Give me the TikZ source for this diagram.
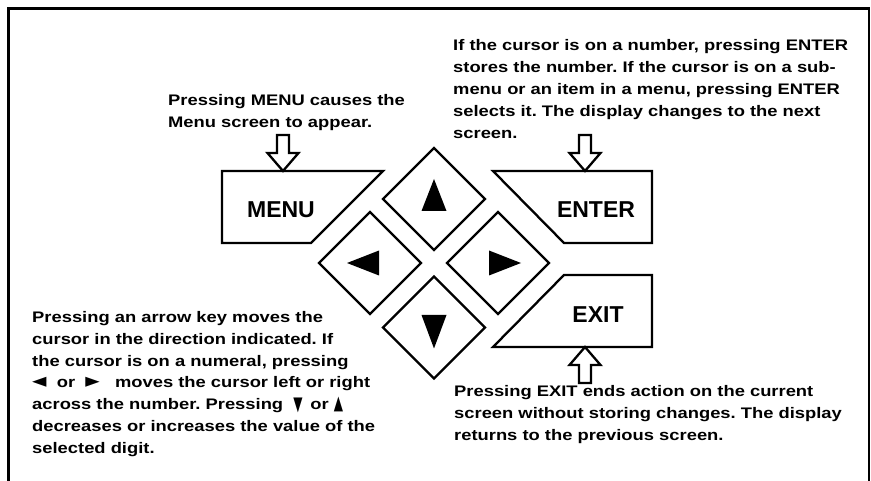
\documentclass[tikz,border=0pt]{standalone}
\usepackage{fontspec}
\setmainfont{Liberation Sans}
\newfontfamily\notefont[FakeStretch=1.2]{Liberation Sans}
\newfontfamily\symfont{DejaVu Sans}
\usetikzlibrary{shapes.geometric}
\frenchspacing
\newcommand{\symL}{{\symfont\fontsize{15}{15}\selectfont\scalebox{1.25}[1.35]{◄}}}
\newcommand{\symR}{{\symfont\fontsize{15}{15}\selectfont\scalebox{1.25}[1.35]{►}}}
\newcommand{\symD}{{\symfont\fontsize{15}{15}\selectfont\raisebox{-0.5pt}{\scalebox{0.8}[1.3]{▼}}}}
\newcommand{\symU}{{\symfont\fontsize{15}{15}\selectfont\scalebox{0.8}[1.3]{▲}}}
\tikzset{
  keyline/.style={line width=2.3pt, line join=miter},
  keydiamond/.style={diamond, draw, keyline, minimum width=103pt, minimum height=103pt, inner sep=0pt},
  keylabel/.style={font=\bfseries\fontsize{23}{26}\selectfont, inner sep=0pt, anchor=base},
  note/.style={font=\notefont\bfseries\fontsize{15.3}{22}\selectfont\frenchspacing, align=left, inner sep=0pt, anchor=base west},
  downarrow/.pic={\draw[keyline] (-6,-36) -- (-6,-18) -- (-15.5,-18) -- (0,0) -- (15.5,-18) -- (6,-18) -- (6,-36) -- cycle;},
  uparrow/.pic={\draw[keyline] (-6,36) -- (-6,18) -- (-15.5,18) -- (0,0) -- (15.5,18) -- (6,18) -- (6,36) -- cycle;}
}
\begin{document}
\begin{tikzpicture}[x=1pt, y=-1pt]
\useasboundingbox (0,0) rectangle (871,481);
% frame
\draw[line width=2.3pt] (8.5,481) -- (8.5,8.5) -- (869,8.5) -- (869,481);

% arrow keys
\node[keydiamond] (up) at (434,199) {};
\node[keydiamond] (left) at (370,263) {};
\node[keydiamond] (right) at (498,263) {};
\node[keydiamond] (down) at (434,327.5) {};
\fill ([yshift=20pt]up.center) -- ([xshift=-12.5pt,yshift=-12pt]up.center) -- ([xshift=12.5pt,yshift=-12pt]up.center) -- cycle;
\fill ([yshift=-21pt]down.center) -- ([xshift=-12.5pt,yshift=12.5pt]down.center) -- ([xshift=12.5pt,yshift=12.5pt]down.center) -- cycle;
\fill ([xshift=-23pt]left.center) -- ([xshift=9pt,yshift=12.5pt]left.center) -- ([xshift=9pt,yshift=-12.5pt]left.center) -- cycle;
\fill ([xshift=23pt]right.center) -- ([xshift=-9pt,yshift=12.5pt]right.center) -- ([xshift=-9pt,yshift=-12.5pt]right.center) -- cycle;

% MENU / ENTER / EXIT keys
\draw[keyline] (222,171) -- (383,171) -- (311,243) -- (222,243) -- cycle;
\draw[keyline] (493,171) -- (652,171) -- (652,243) -- (564,243) -- cycle;
\draw[keyline] (564,275) -- (652,275) -- (652,347) -- (493,347) -- cycle;
\node[keylabel] (menu) at (281,218) {MENU};
\node[keylabel] (enter) at (596,218) {ENTER};
\node[keylabel] (exit) at (598,323) {EXIT};

% pointer arrows
\coordinate (menutip) at (283,171);
\coordinate (entertip) at (585,171);
\coordinate (exittip) at (585,347);
\pic at (menutip) {downarrow};
\pic at (entertip) {downarrow};
\pic at (exittip) {uparrow};

% notes (anchor = baseline of the last line)
\node[note] (menunote) at (168,128) {Pressing MENU causes the\\Menu screen to appear.};
\node[note] (enternote) at (453,139) {If the cursor is on a number, pressing ENTER\\stores the number. If the cursor is on a sub-\\menu or an item in a menu, pressing ENTER\\selects it. The display changes to the next\\screen.};
\node[note, font=\notefont\bfseries\fontsize{15.3}{21.7}\selectfont\frenchspacing] (arrownote) at (32,453) {Pressing an arrow key moves the\\cursor in the direction indicated. If\\the cursor is on a numeral, pressing\\\symL\ \ or \ \symR\ \ \ moves the cursor left or right\\across the number. Pressing \ \symD\ \,or \symU\\decreases or increases the value of the\\selected digit.};
\node[note] (exitnote) at (454,440) {Pressing EXIT ends action on the current\\screen without storing changes. The display\\returns to the previous screen.};
\end{tikzpicture}
\end{document}
